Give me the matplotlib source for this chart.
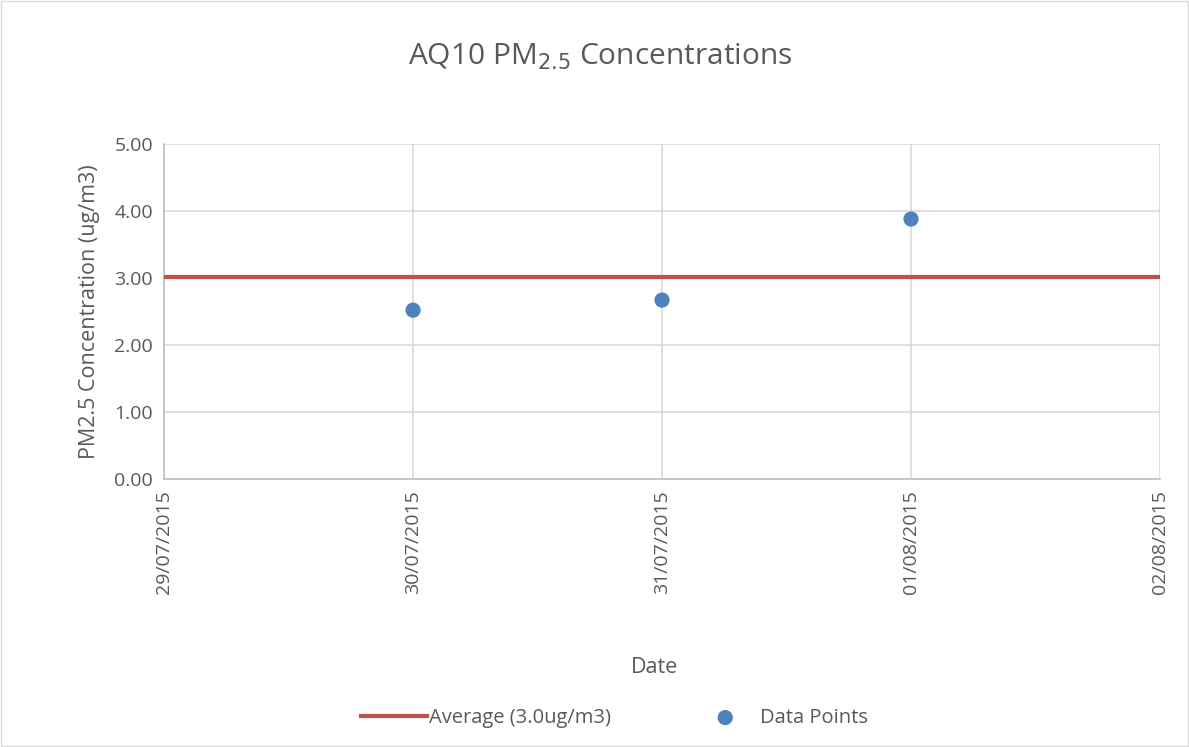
import datetime as dt
import matplotlib
matplotlib.use('Agg')
import matplotlib.pyplot as plt
import matplotlib.dates as mdates
from matplotlib.patches import Rectangle

plt.rcParams['font.family'] = ['Open Sans', 'DejaVu Sans']

# data
dates = [dt.date(2015, 7, 30), dt.date(2015, 7, 31), dt.date(2015, 8, 1)]
pm25 = [2.52, 2.67, 3.88]
average = 3.02
x_limits = [dt.date(2015, 7, 29), dt.date(2015, 8, 2)]
tick_dates = [dt.date(2015, 7, 29), dt.date(2015, 7, 30), dt.date(2015, 7, 31),
              dt.date(2015, 8, 1), dt.date(2015, 8, 2)]
y_ticks = [0, 1, 2, 3, 4, 5]

txt = '#595959'
grid_c = '#d9d9d9'

fig = plt.figure(figsize=(11.89, 7.47), dpi=100)
ax = fig.add_axes([0.138, 0.3588, 0.8376, 0.4484])

ax.plot(x_limits, [average, average], color='#c0504d', lw=3, zorder=3,
        label='Average (3.0ug/m3)')
ax.scatter(dates, pm25, s=120, color='#4f81bd', zorder=4, label='Data Points',
           edgecolors='none')

ax.set_xlim(x_limits)
ax.set_ylim(0, 5)
ax.set_xticks(tick_dates)
ax.xaxis.set_major_formatter(mdates.DateFormatter('%d/%m/%Y'))
ax.set_yticks(y_ticks)
ax.set_yticklabels(['%.2f' % v for v in y_ticks])
ax.tick_params(axis='x', rotation=90, length=0, labelsize=14, colors=txt, pad=8)
ax.tick_params(axis='y', length=0, labelsize=14, colors=txt, pad=8)
ax.grid(True, color=grid_c, lw=1.2)
ax.set_axisbelow(True)
for s in ['top', 'right']:
    ax.spines[s].set_visible(False)
for s in ['left', 'bottom']:
    ax.spines[s].set_color('#bfbfbf')
    ax.spines[s].set_linewidth(1.2)

ax.set_ylabel('PM2.5 Concentration (ug/m3)', fontsize=15.5, color=txt, labelpad=10)
fig.text(0.5505, 0.107, 'Date', fontsize=15.5, color=txt, ha='center', va='center')
fig.text(0.5045, 0.924, r'AQ10 PM$_{2.5}$ Concentrations', fontsize=21.5, color=txt,
         ha='center', va='center')

leg = fig.legend(loc='center', bbox_to_anchor=(0.517, 0.039), ncol=2, frameon=False,
                 fontsize=14.5, labelcolor=txt, handlelength=3.3, handletextpad=0.1,
                 columnspacing=4)

fig.patches.append(Rectangle((0.001, 0.001), 0.998, 0.998, transform=fig.transFigure,
                             fill=False, edgecolor='#d9d9d9', lw=1))

plt.savefig('out.png', dpi=100)
